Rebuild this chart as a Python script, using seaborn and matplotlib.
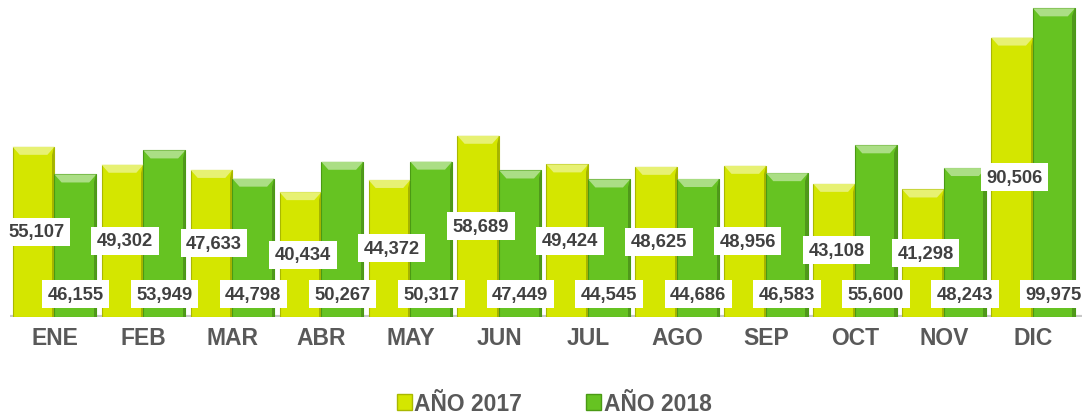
import matplotlib
matplotlib.use("Agg")
import matplotlib.pyplot as plt
import matplotlib.colors as mcolors
from matplotlib.patches import Polygon, Patch
import seaborn as sns
import pandas as pd

months = ["ENE", "FEB", "MAR", "ABR", "MAY", "JUN", "JUL", "AGO", "SEP", "OCT", "NOV", "DIC"]
series_names = ["AÑO 2017", "AÑO 2018"]
values_2017 = [55107, 49302, 47633, 40434, 44372, 58689, 49424, 48625, 48956, 43108, 41298, 90506]
values_2018 = [46155, 53949, 44798, 50267, 50317, 47449, 44545, 44686, 46583, 55600, 48243, 99975]

colors = {"AÑO 2017": "#d4e600", "AÑO 2018": "#66c322"}
edge_colors = {"AÑO 2017": "#a9b800", "AÑO 2018": "#4a9a14"}

df = pd.DataFrame({
    "mes": months * 2,
    "valor": values_2017 + values_2018,
    "serie": [series_names[0]] * 12 + [series_names[1]] * 12,
})

sns.set_theme(style="white")
plt.rcParams["font.family"] = ["Liberation Sans", "DejaVu Sans"]

fig = plt.figure(figsize=(10.87, 4.14), dpi=100)
ax = fig.add_axes([0.0092, 0.232, 0.9862, 0.768])

sns.barplot(data=df, x="mes", y="valor", hue="serie", order=months,
            hue_order=series_names, palette=colors, width=0.94, gap=0,
            saturation=1, ax=ax, legend=False, errorbar=None)

ax.set_ylim(0, 103000)
ax.set_xlim(-0.5, 11.55)
ax.set_xlabel("")
ax.set_ylabel("")
ax.set_yticks([])
for s in ax.spines.values():
    s.set_visible(False)
ax.tick_params(axis="x", length=0, pad=6.5)
for lbl in ax.get_xticklabels():
    lbl.set_fontsize(16.5)
    lbl.set_fontweight("bold")
    lbl.set_color("#595959")

# floor line
ax.axhline(0, color="#c8c8c8", lw=3, zorder=0)

# bevel effect and labels
px_per_unit = (0.768 * 414) / 103000.0
bevel_h = 8 / px_per_unit
for ci, cont in enumerate(ax.containers):
    name = series_names[ci]
    base = mcolors.to_rgb(colors[name])
    light = tuple(min(1, c + (1 - c) * 0.45) for c in base)
    dark = tuple(c * 0.78 for c in base)
    for bar in cont:
        bar.set_edgecolor(edge_colors[name])
        bar.set_linewidth(0.8)
        x0, w, h = bar.get_x(), bar.get_width(), bar.get_height()
        inset = w * 0.17
        top = Polygon([(x0, h), (x0 + w, h), (x0 + w - inset, h - bevel_h), (x0 + inset, h - bevel_h)],
                      closed=True, facecolor=light, edgecolor="none", zorder=3)
        ax.add_patch(top)
        right = Polygon([(x0 + w, h), (x0 + w, 0), (x0 + w - w * 0.06, 0), (x0 + w - w * 0.06, h - bevel_h)],
                        closed=True, facecolor=dark, edgecolor="none", zorder=3)
        ax.add_patch(right)
        cx = x0 + w / 2
        label = f"{int(round(h)):,}"
        if ci == 0:
            y = h / 2
            cx += w * 0.06
        else:
            y = 7300
        ax.text(cx, y, label, ha="center", va="center", fontsize=13.2, fontweight="bold",
                color="#404040", zorder=6,
                bbox=dict(boxstyle="square,pad=0.3", facecolor="white", edgecolor="none"))

handles = [Patch(facecolor=colors[n], edgecolor=edge_colors[n]) for n in series_names]
leg = fig.legend(handles, series_names, loc="lower center", bbox_to_anchor=(0.51, -0.055), ncol=2,
                 frameon=False, handlelength=0.65, handleheight=0.65, handletextpad=0.1,
                 columnspacing=2.8, prop={"size": 16.5, "weight": "bold"})
for t in leg.get_texts():
    t.set_color("#595959")

fig.savefig("out.png", dpi=100)
